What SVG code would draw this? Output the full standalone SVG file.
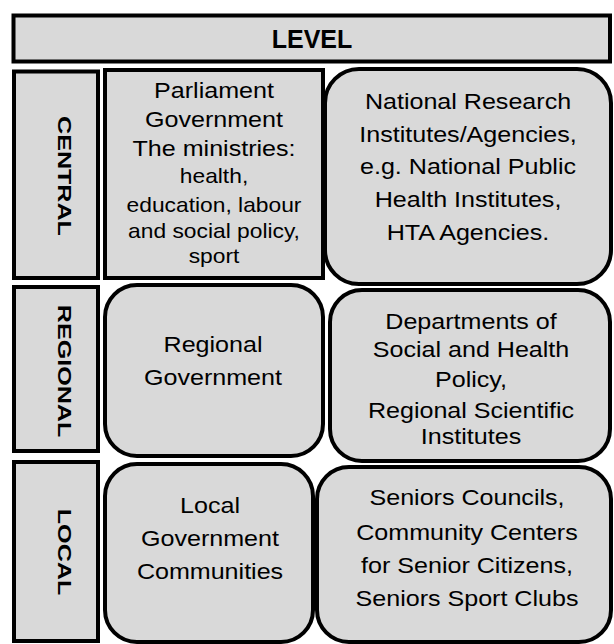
<svg xmlns="http://www.w3.org/2000/svg" width="614" height="644" viewBox="0 0 614 644">
<style>
  .box { fill: #d9d9d9; stroke: #000; stroke-width: 4; }
  .t { font-family: "Liberation Sans", Arial, sans-serif; font-size: 22px; fill: #000; text-anchor: middle; }
  .s { font-size: 20px; }
  .lbl { font-family: "Liberation Sans", Arial, sans-serif; font-size: 18.6px; font-weight: bold; fill: #000; text-anchor: middle; }
  .hdr { font-family: "Liberation Sans", Arial, sans-serif; font-size: 25px; font-weight: bold; fill: #000; text-anchor: middle; }
</style>
<rect width="614" height="644" fill="#fff"/>

<g id="level">
  <rect class="box" x="13.5" y="15.5" width="596.5" height="46"/>
  <text class="hdr" x="312" y="48">LEVEL</text>
</g>

<g id="central-label">
  <rect class="box" x="14" y="71.5" width="84" height="206.5"/>
  <text class="lbl" transform="translate(58,176) rotate(90) scale(1.35,1)" x="0" y="0">CENTRAL</text>
</g>

<g id="parliament">
  <rect class="box" x="105" y="70" width="218" height="208"/>
  <g transform="translate(214,0) scale(1.14,1)">
    <text class="t" x="0" y="98">Parliament</text>
    <text class="t" x="0" y="127">Government</text>
    <text class="t" x="0" y="156">The ministries:</text>
    <text class="t s" x="0" y="183">health,</text>
    <text class="t s" x="0" y="212">education, labour</text>
    <text class="t s" x="0" y="238">and social policy,</text>
    <text class="t s" x="0" y="263">sport</text>
  </g>
</g>

<g id="national">
  <rect class="box" x="325" y="69" width="286" height="215" rx="34" ry="34"/>
  <g transform="translate(468,0) scale(1.14,1)">
    <text class="t" x="0" y="109">National Research</text>
    <text class="t" x="0" y="142">Institutes/Agencies,</text>
    <text class="t" x="0" y="174">e.g. National Public</text>
    <text class="t" x="0" y="207">Health Institutes,</text>
    <text class="t" x="0" y="240">HTA Agencies.</text>
  </g>
</g>

<g id="regional-label">
  <rect class="box" x="14" y="287" width="84" height="164"/>
  <text class="lbl" transform="translate(58,371) rotate(90) scale(1.35,1)" x="0" y="0">REGIONAL</text>
</g>

<g id="regional-government">
  <rect class="box" x="105" y="285" width="218" height="171" rx="32" ry="32"/>
  <g transform="translate(213,0) scale(1.14,1)">
    <text class="t" x="0" y="352">Regional</text>
    <text class="t" x="0" y="385">Government</text>
  </g>
</g>

<g id="departments">
  <rect class="box" x="330" y="290" width="280" height="171" rx="32" ry="32"/>
  <g transform="translate(471,0) scale(1.14,1)">
    <text class="t" x="0" y="329">Departments of</text>
    <text class="t" x="0" y="357">Social and Health</text>
    <text class="t" x="0" y="387">Policy,</text>
    <text class="t" x="0" y="418">Regional Scientific</text>
    <text class="t" x="0" y="444">Institutes</text>
  </g>
</g>

<g id="local-label">
  <rect class="box" x="14" y="462" width="84" height="179"/>
  <text class="lbl" transform="translate(58,552) rotate(90) scale(1.35,1)" x="0" y="0">LOCAL</text>
</g>

<g id="local-government">
  <rect class="box" x="105" y="464" width="208" height="178" rx="32" ry="32"/>
  <g transform="translate(210,0) scale(1.14,1)">
    <text class="t" x="0" y="513">Local</text>
    <text class="t" x="0" y="546">Government</text>
    <text class="t" x="0" y="579">Communities</text>
  </g>
</g>

<g id="seniors">
  <rect class="box" x="317" y="467" width="294" height="175" rx="32" ry="32"/>
  <g transform="translate(467,0) scale(1.14,1)">
    <text class="t" x="0" y="505">Seniors Councils,</text>
    <text class="t" x="0" y="540">Community Centers</text>
    <text class="t" x="0" y="573">for Senior Citizens,</text>
    <text class="t" x="0" y="606">Seniors Sport Clubs</text>
  </g>
</g>
</svg>
